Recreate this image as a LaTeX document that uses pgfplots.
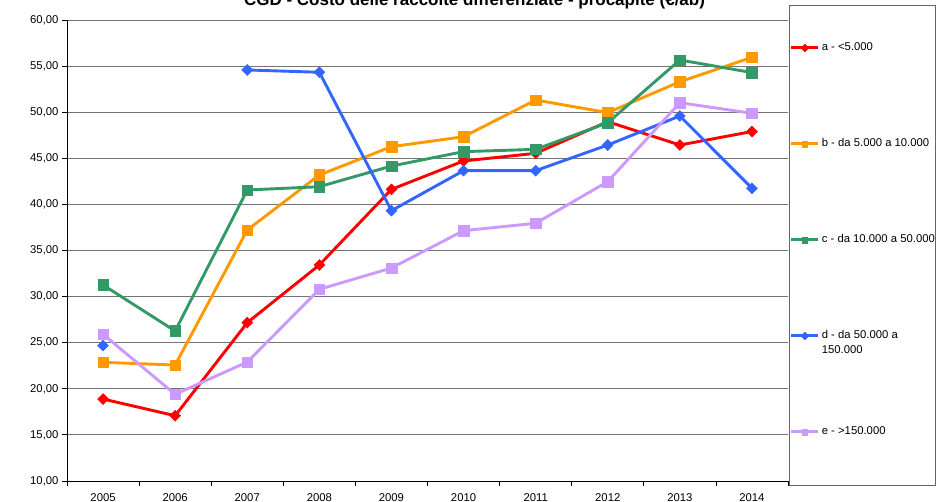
\documentclass[border=0pt]{standalone}
\usepackage{pgfplots}
\pgfplotsset{compat=1.18}
\usepackage{fontspec}
\setmainfont{Liberation Sans}
\definecolor{cA}{HTML}{FF0000}
\definecolor{cB}{HTML}{FF9900}
\definecolor{cC}{HTML}{339966}
\definecolor{cD}{HTML}{3366FF}
\definecolor{cE}{HTML}{CC99FF}
\begin{document}
\begin{tikzpicture}
\useasboundingbox (0,0) rectangle (941pt,502pt);
\begin{axis}[
  at={(67pt,21pt)}, anchor=south west,
  scale only axis, width=721pt, height=461pt,
  xmin=-0.5, xmax=9.5, ymin=10, ymax=60,
  axis x line*=bottom, axis y line*=left,
  axis line style={-, black, line width=0.8pt},
  tick align=outside,
  xtick={0,...,9},
  xticklabels={2005,2006,2007,2008,2009,2010,2011,2012,2013,2014},
  major x tick style={draw=none},
  minor xtick={-0.5,0.5,...,9.5},
  minor tick length=5pt,
  minor x tick style={black, line width=0.8pt},
  ytick={10,15,...,60},
  major tick length=5pt,
  y tick style={black, line width=0.8pt},
  ymajorgrids,
  major grid style={gray!90!black, line width=0.8pt},
  tick label style={font=\fontsize{11.3}{13}\selectfont},
  yticklabel style={/pgf/number format/.cd, fixed, fixed zerofill, precision=2, use comma, assume math mode=true},
  xticklabel style={yshift=-4pt},
  title={CGD - Costo delle raccolte differenziate - procapite (€/ab)},
  title style={at={(axis description cs:0.5652,1.0325)}, anchor=base, yshift=-6pt, font=\bfseries\fontsize{17}{20}\selectfont, inner sep=0pt},
  unbounded coords=jump,
  every axis plot/.append style={line width=2.9pt},
  legend style={at={(axis description cs:1.0014,1.0325)}, anchor=north west,
    draw=gray!80!black, line width=0.8pt, inner xsep=0.5pt, inner ysep=37pt, row sep=74pt,
    font=\fontsize{11.3}{15}\selectfont,
    nodes={inner sep=0pt, text height=8pt, text depth=14pt, align=left},
    /tikz/every odd column/.append style={column sep=2pt}},
  legend cell align=left,
  legend image code/.code={\draw[mark repeat=2,mark phase=2] plot coordinates {(0pt,5.5pt) (13.5pt,5.5pt) (27pt,5.5pt)};},
  legend image post style={mark size=2.8pt},
]
\addplot[color=cA, mark=square*, mark size=3.9pt, mark options={solid, rotate=45, line width=0.4pt}] coordinates {
(0,18.89) (1,17.08) (2,27.17) (3,33.43) (4,41.63) (5,44.71) (6,45.54) (7,48.97) (8,46.44) (9,47.9)};
\addlegendentry{a - <5.000}
\addplot[color=cB, mark=square*, mark size=5.3pt, mark options={solid, line width=0.4pt}] coordinates {
(0,22.87) (1,22.58) (2,37.22) (3,43.19) (4,46.26) (5,47.34) (6,51.32) (7,49.95) (8,53.3) (9,55.95)};
\addlegendentry{b - da 5.000 a 10.000}
\addplot[color=cC, mark=square*, mark size=5.3pt, mark options={solid, line width=0.4pt}] coordinates {
(0,31.26) (1,26.27) (2,41.56) (3,41.92) (4,44.16) (5,45.72) (6,45.97) (7,48.86) (8,55.66) (9,54.3)};
\addlegendentry{c - da 10.000 a 50.000}
\addplot[color=cD, mark=square*, mark size=3.9pt, mark options={solid, rotate=45, line width=0.4pt}] coordinates {
(0,24.68) (1,nan) (2,54.58) (3,54.33) (4,39.32) (5,43.66) (6,43.66) (7,46.44) (8,49.59) (9,41.75)};
\addlegendentry{\vtop{\hbox{d - da 50.000 a}\hbox{150.000}}}
\addplot[color=cE, mark=square*, mark size=5.3pt, mark options={solid, line width=0.4pt}] coordinates {
(0,25.91) (1,19.4) (2,22.9) (3,30.79) (4,33.1) (5,37.15) (6,37.95) (7,42.47) (8,51.03) (9,49.88)};
\addlegendentry{e - >150.000}
\end{axis}
\end{tikzpicture}
\end{document}
